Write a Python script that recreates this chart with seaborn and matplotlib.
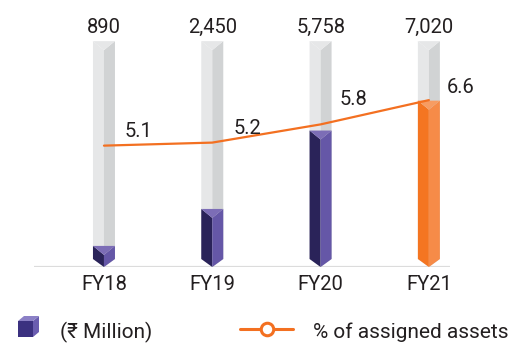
import matplotlib
matplotlib.use("Agg")
import matplotlib.pyplot as plt
import seaborn as sns
import numpy as np
from matplotlib.patches import Polygon
from matplotlib.lines import Line2D

# Data
years = ["FY18", "FY19", "FY20", "FY21"]
amount_mn = [890, 2450, 5758, 7020]          # ₹ Million
pct_assets = [5.1, 5.2, 5.8, 6.6]            # % of assigned assets
track_max = 9530                              # height of the grey background columns

sns.set_theme(style="white")
plt.rcParams["font.family"] = ["Roboto", "DejaVu Sans"]

TXT = "#231f20"
ORANGE = "#f37021"
GREY_L, GREY_R = "#e6e7e8", "#d1d3d4"
PURPLE = ("#2a2359", "#6557a7", "#7c6db6")   # left face, right face, top cap
ORANGE_F = ("#f47521", "#f68b48", "#f79c62")

W, H = 516, 344
fig = plt.figure(figsize=(W / 100, H / 100), dpi=100)

# main axes: baseline at y=267px, spans x 34..450px
ax = fig.add_axes([34 / W, (H - 267) / H, (450 - 34) / W, 267 / H])
ax.set_xlim(-0.646, 3.195)
ax.set_ylim(0, 11266)
for s in ax.spines.values():
    s.set_visible(False)
ax.set_yticks([])

# convert pixel sizes of the prism geometry to data units
px_y = 11266 / 267.0
px_x = (3.195 + 0.646) / (450 - 34)
half_w = 11 * px_x
cap_d = 9 * px_y
vee_d = 8 * px_y


def prism(ax, c, top, faces, z):
    left, right, cap = faces
    ax.add_patch(Polygon([(c - half_w, top), (c, top - cap_d), (c, 0), (c - half_w, vee_d)],
                         closed=True, facecolor=left, edgecolor="none", zorder=z))
    ax.add_patch(Polygon([(c, top - cap_d), (c + half_w, top), (c + half_w, vee_d), (c, 0)],
                         closed=True, facecolor=right, edgecolor="none", zorder=z))
    ax.add_patch(Polygon([(c - half_w, top), (c + half_w, top), (c, top - cap_d)],
                         closed=True, facecolor=cap, edgecolor="none", zorder=z))


xs = np.arange(len(years))
for i, v in enumerate(amount_mn):
    prism(ax, xs[i], track_max, (GREY_L, GREY_R, GREY_L), 2)
    faces = ORANGE_F if i == len(years) - 1 else PURPLE
    prism(ax, xs[i], v, faces, 3)
    ax.annotate(f"{v:,}", (xs[i], track_max), xytext=(0, 8), textcoords="offset pixels",
                ha="center", va="baseline", fontsize=14.5, color=TXT)

ax.axhline(0, color="#dcdcdc", lw=1.6, zorder=1)
ax.set_xticks(xs)
ax.set_xticklabels(years, fontsize=14.5, color=TXT)
ax.tick_params(axis="x", length=0, pad=6)
ax.grid(False)

# secondary axis for the percentage line
ax2 = ax.twinx()
ax2.set_ylim(1.10, 9.90)
sns.lineplot(x=xs, y=pct_assets, ax=ax2, color=ORANGE, lw=1.6, legend=False)
ax2.set_xlim(ax.get_xlim())
for s in ax2.spines.values():
    s.set_visible(False)
ax2.set_yticks([])
ax2.set_ylabel("")
ax2.grid(False)

label_offsets = [(35, 9), (35, 9), (33, 19), (32, 7)]
for i, p in enumerate(pct_assets):
    ax2.annotate(f"{p:.1f}", (xs[i], p), xytext=label_offsets[i], textcoords="offset pixels",
                 ha="center", va="baseline", fontsize=14.5, color=TXT)

# legend row drawn in pixel space
leg = fig.add_axes([0, 0, 1, 1], facecolor="none")
leg.set_xlim(0, W)
leg.set_ylim(H, 0)
leg.axis("off")
# cube icon
leg.add_patch(Polygon([(18, 321), (33, 321), (33, 337), (18, 337)], facecolor="#3b3180", edgecolor="none"))
leg.add_patch(Polygon([(33, 321), (39, 316), (39, 332), (33, 337)], facecolor="#6a5db0", edgecolor="none"))
leg.add_patch(Polygon([(18, 321), (24, 316), (39, 316), (33, 321)], facecolor="#8b80c6", edgecolor="none"))
leg.text(60, 338, "(₹ Million)", fontsize=15, color=TXT, ha="left", va="baseline")
leg.add_line(Line2D([240, 293], [329, 329], color=ORANGE, lw=2.2))
leg.plot([266.5], [329], marker="o", ms=9, mfc="white", mec=ORANGE, mew=2.2)
leg.text(313, 338, "% of assigned assets", fontsize=15, color=TXT, ha="left", va="baseline")

fig.savefig("out.png", dpi=100)
